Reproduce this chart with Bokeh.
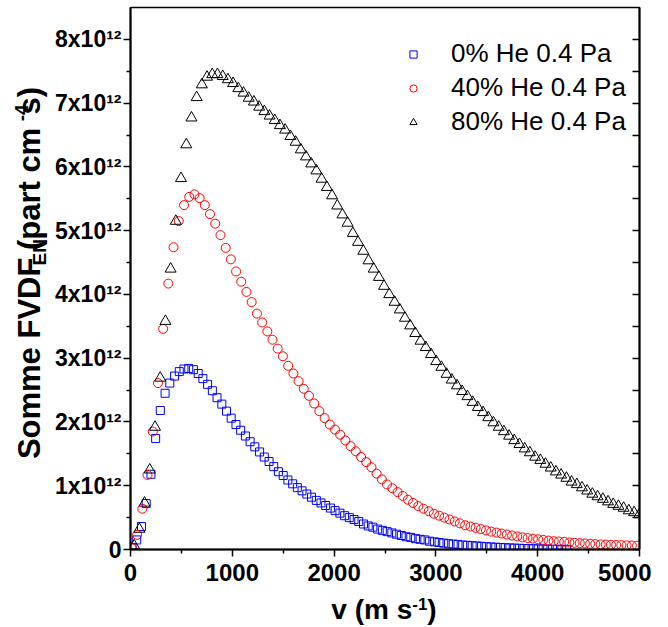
from bokeh.plotting import figure
from bokeh.layouts import row, column
from bokeh.models import (FixedTicker, LinearAxis, Legend, LegendItem,
                          Range1d, CustomJSTickFormatter)
from bokeh.core.properties import value
from bokeh.embed import file_html
from bokeh.resources import INLINE

# ---------------- data ----------------
v_0he = [15, 61, 108, 154, 201, 247, 293, 340, 386, 433, 479, 525, 572, 618, 665, 711, 757, 804,
         850, 897, 943, 989, 1036, 1082, 1129, 1175, 1221, 1268, 1314, 1361, 1407, 1453, 1500,
         1546, 1593, 1639, 1685, 1732, 1778, 1825, 1871, 1917, 1964, 2010, 2057, 2103, 2149, 2196,
         2242, 2289, 2335, 2381, 2428, 2474, 2521, 2567, 2613, 2660, 2706, 2753, 2799, 2845, 2892,
         2938, 2985, 3031, 3077, 3124, 3170, 3217, 3263, 3309, 3356, 3402, 3449, 3495, 3541, 3588,
         3634, 3681, 3727, 3773, 3820, 3866, 3913, 3959, 4005, 4052, 4098, 4145, 4191, 4237, 4284]
fvdf_0he = [0.03, 0.15, 0.36, 0.72, 1.18, 1.74, 2.18, 2.45, 2.61, 2.72, 2.79, 2.83, 2.84, 2.82,
            2.76, 2.68, 2.59, 2.49, 2.38, 2.28, 2.17, 2.06, 1.96, 1.87, 1.78, 1.69, 1.61, 1.53,
            1.45, 1.38, 1.30, 1.22, 1.16, 1.09, 1.03, 0.97, 0.92, 0.87, 0.82, 0.77, 0.73, 0.69,
            0.65, 0.61, 0.57, 0.53, 0.50, 0.47, 0.44, 0.40, 0.37, 0.35, 0.32, 0.30, 0.28, 0.26,
            0.24, 0.22, 0.20, 0.19, 0.17, 0.16, 0.15, 0.13, 0.12, 0.11, 0.10, 0.09, 0.085, 0.08,
            0.07, 0.065, 0.06, 0.055, 0.05, 0.045, 0.04, 0.036, 0.032, 0.028, 0.025, 0.022, 0.019,
            0.016, 0.014, 0.012, 0.010, 0.008, 0.006, 0.005, 0.004, 0.003, 0.002]

v_40he = [14, 65, 116, 167, 219, 270, 321, 372, 423, 474, 526, 577, 628, 679, 730, 781, 832, 884,
          935, 986, 1037, 1088, 1139, 1190, 1242, 1293, 1344, 1395, 1446, 1497, 1549, 1600, 1651,
          1702, 1753, 1804, 1855, 1907, 1958, 2009, 2060, 2111, 2162, 2213, 2265, 2316, 2367, 2418,
          2469, 2520, 2572, 2623, 2674, 2725, 2776, 2827, 2878, 2930, 2981, 3032, 3083, 3134, 3185,
          3236, 3288, 3339, 3390, 3441, 3492, 3543, 3595, 3646, 3697, 3748, 3799, 3850, 3901, 3953,
          4004, 4055, 4106, 4157, 4208, 4260, 4311, 4362, 4413, 4464, 4515, 4566, 4618, 4669, 4720,
          4771, 4822, 4873, 4925, 4976]
fvdf_40he = [0.02, 0.23, 0.64, 1.17, 1.85, 2.61, 3.46, 4.17, 4.74, 5.15, 5.40, 5.53, 5.57, 5.51,
             5.40, 5.26, 5.11, 4.93, 4.73, 4.55, 4.36, 4.20, 4.04, 3.88, 3.70, 3.56, 3.42, 3.29,
             3.15, 3.03, 2.88, 2.76, 2.64, 2.52, 2.41, 2.29, 2.17, 2.06, 1.96, 1.88, 1.80, 1.71,
             1.62, 1.54, 1.45, 1.37, 1.29, 1.19, 1.10, 1.02, 0.96, 0.90, 0.84, 0.78, 0.73, 0.68,
             0.64, 0.60, 0.56, 0.53, 0.50, 0.47, 0.44, 0.41, 0.38, 0.36, 0.34, 0.32, 0.30, 0.28,
             0.265, 0.25, 0.235, 0.22, 0.205, 0.19, 0.18, 0.17, 0.16, 0.15, 0.14, 0.13, 0.125,
             0.12, 0.11, 0.105, 0.10, 0.095, 0.09, 0.085, 0.08, 0.077, 0.074, 0.071, 0.068, 0.065,
             0.062, 0.06]

v_80he = [36, 87, 138, 189, 241, 292, 343, 394, 445, 496, 548, 599, 650, 701, 752, 803, 854, 906,
          957, 1008, 1059, 1110, 1161, 1212, 1264, 1315, 1366, 1417, 1468, 1519, 1571, 1622, 1673,
          1724, 1775, 1826, 1877, 1929, 1980, 2031, 2082, 2133, 2184, 2235, 2287, 2338, 2389, 2440,
          2491, 2542, 2594, 2645, 2696, 2747, 2798, 2849, 2900, 2952, 3003, 3054, 3105, 3156, 3207,
          3258, 3310, 3361, 3412, 3463, 3514, 3565, 3617, 3668, 3719, 3770, 3821, 3872, 3923, 3975,
          4026, 4077, 4128, 4179, 4230, 4282, 4333, 4384, 4435, 4486, 4537, 4588, 4640, 4691, 4742,
          4793, 4844, 4895, 4947, 4998]
fvdf_80he = [0.06, 0.32, 0.73, 1.25, 1.92, 2.69, 3.58, 4.40, 5.15, 5.82, 6.35, 6.77, 7.09, 7.29,
             7.41, 7.45, 7.45, 7.42, 7.37, 7.31, 7.23, 7.16, 7.08, 7.02, 6.94, 6.87, 6.80, 6.73,
             6.65, 6.58, 6.48, 6.39, 6.27, 6.16, 6.05, 5.94, 5.81, 5.68, 5.55, 5.39, 5.25, 5.12,
             4.96, 4.82, 4.68, 4.53, 4.40, 4.27, 4.13, 4.00, 3.88, 3.76, 3.63, 3.51, 3.39, 3.27,
             3.17, 3.06, 2.95, 2.86, 2.75, 2.66, 2.57, 2.48, 2.40, 2.31, 2.23, 2.15, 2.07, 1.99,
             1.92, 1.85, 1.78, 1.71, 1.65, 1.58, 1.52, 1.45, 1.40, 1.34, 1.28, 1.22, 1.17, 1.12,
             1.06, 1.02, 0.97, 0.92, 0.87, 0.83, 0.79, 0.75, 0.71, 0.68, 0.65, 0.61, 0.58, 0.55]

series_labels = ["0% He 0.4 Pa", "40% He 0.4 Pa", "80% He 0.4 Pa"]

x_ticks = [0, 1000, 2000, 3000, 4000, 5000]
x_minor_ticks = [500, 1500, 2500, 3500, 4500]
y_ticks = [0, 1, 2, 3, 4, 5, 6, 7, 8]          # in units of 10^12
y_minor_ticks = [0.5, 1.5, 2.5, 3.5, 4.5, 5.5, 6.5, 7.5]
y_tick_labels = ["0", "1x10\u00b9\u00b2", "2x10\u00b9\u00b2", "3x10\u00b9\u00b2",
                 "4x10\u00b9\u00b2", "5x10\u00b9\u00b2", "6x10\u00b9\u00b2",
                 "7x10\u00b9\u00b2", "8x10\u00b9\u00b2"]

x_title_main = ["v (m s", ")"]
x_title_sup = ["-1"]
y_title_main = ["Somme FVDF", " (part cm", "s)"]
y_title_sub = ["EN"]
y_title_sup = ["-4"]

FONT = "Liberation Sans"
MID = 0.3465        # baseline -> centre of text box, in em (Liberation Sans)
ROT_SHIFT = 0.8     # along-text correction of rotated glyph text, in em

# ---------------- layout constants (pixels) ----------------
YT_W = 52           # width of the y-title strip
FRAME_L = 129       # frame left edge (page px)
FRAME_T = 7
FRAME_W = 509
FRAME_H = 542
BOTTOM = 42
RIGHT = 12
MAIN_H = FRAME_T + FRAME_H + BOTTOM      # 591
XT_H = 627 - MAIN_H                      # 36
TOTAL_W = FRAME_L + FRAME_W + RIGHT

# ---------------- main figure ----------------
p = figure(frame_width=FRAME_W, frame_height=FRAME_H,
           x_range=Range1d(0, 5000), y_range=Range1d(0, 8.5),
           output_backend="svg", toolbar_location=None,
           min_border_left=FRAME_L - YT_W, min_border_right=RIGHT,
           min_border_top=FRAME_T, min_border_bottom=BOTTOM)
p.xgrid.grid_line_color = None
p.ygrid.grid_line_color = None
p.outline_line_color = "black"
p.outline_line_width = 1.5

r0 = p.scatter(v_0he, fvdf_0he, marker="square", size=8, fill_color=None,
               line_color="#0000ff", line_width=1)
r1 = p.scatter(v_40he, fvdf_40he, marker="circle", size=9, fill_color=None,
               line_color="#ff0000", line_width=1)
r2 = p.scatter(v_80he, fvdf_80he, marker="triangle", size=11, fill_color=None,
               line_color="#000000", line_width=1)

xa = p.xaxis[0]
xa.ticker = FixedTicker(ticks=x_ticks, minor_ticks=x_minor_ticks)
xa.axis_line_width = 2
xa.major_tick_line_width = 1.5
xa.minor_tick_line_width = 1.5
xa.major_tick_out = 7
xa.major_tick_in = 0
xa.minor_tick_out = 4
xa.minor_tick_in = 0
xa.major_label_text_font = FONT
xa.major_label_text_font_style = "bold"
xa.major_label_text_font_size = "24px"
xa.major_label_text_color = "black"
xa.major_label_standoff = 7

ya = p.yaxis[0]
ya.ticker = FixedTicker(ticks=y_ticks, minor_ticks=y_minor_ticks)
ya.major_label_overrides = dict(zip(y_ticks, y_tick_labels))
ya.axis_line_width = 2
ya.major_tick_line_width = 1.5
ya.minor_tick_line_width = 1.5
ya.major_tick_out = 7
ya.major_tick_in = 0
ya.minor_tick_out = 4
ya.minor_tick_in = 0
ya.major_label_text_font = FONT
ya.major_label_text_font_style = "bold"
ya.major_label_text_font_size = "23px"
ya.major_label_text_color = "black"
ya.major_label_standoff = 2

ra = LinearAxis(ticker=FixedTicker(ticks=y_ticks, minor_ticks=y_minor_ticks),
                formatter=CustomJSTickFormatter(code="return ''"))
ra.axis_line_width = 2
ra.major_tick_in = 7
ra.major_tick_out = 0
ra.minor_tick_in = 7
ra.minor_tick_out = 0
ra.major_tick_line_width = 1.5
ra.minor_tick_line_width = 1.5
ra.major_label_text_font_size = "1px"
ra.major_label_standoff = 0
p.add_layout(ra, "right")

legend = Legend(items=[LegendItem(label=series_labels[0], renderers=[r0]),
                       LegendItem(label=series_labels[1], renderers=[r1]),
                       LegendItem(label=series_labels[2], renderers=[r2])],
                location=(274, 412), padding=0, margin=0, spacing=3,
                glyph_width=18, glyph_height=30, label_height=30, label_standoff=29,
                label_text_font=FONT, label_text_font_size="26px",
                label_text_color="black",
                background_fill_alpha=0, border_line_color=None)
p.add_layout(legend, "center")


def text_strip(w, h):
    f = figure(width=w, height=h, x_range=Range1d(0, w), y_range=Range1d(0, h),
               output_backend="svg", toolbar_location=None,
               x_axis_location=None, y_axis_location=None,
               min_border=0, outline_line_color=None)
    f.grid.grid_line_color = None
    return f


# ---------------- y title strip (rotated, with sub/superscript) ----------------
YF, YS = 31, 19
yw = [201.5, 26.4, 130.9, 16.9, 27.6]       # advance widths of the pieces (px)
sizes = [YF, YS, YF, YS, YF]
center_page_y = 266
start = (MAIN_H - center_page_y) - sum(yw) / 2   # strip coords, bottom = 0
pos = [start]
for w in yw[:-1]:
    pos.append(pos[-1] + w)
pos = [q - ROT_SHIFT * s for q, s in zip(pos, sizes)]
yt = text_strip(YT_W, MAIN_H)
base = 40                                   # baseline, page x
common = dict(angle=90, angle_units="deg", text_font=value(FONT), text_font_style="bold",
              text_align="left", text_baseline="middle", text_color="black")
yt.text(x=[base - MID * YF] * 3, y=[pos[0], pos[2], pos[4]], text=y_title_main,
        text_font_size=value(f"{YF}px"), **common)
yt.text(x=[base + 6 - MID * YS], y=[pos[1]], text=y_title_sub,
        text_font_size=value(f"{YS}px"), **common)
yt.text(x=[base - 12 - MID * YS], y=[pos[3]], text=y_title_sup,
        text_font_size=value(f"{YS}px"), **common)

# ---------------- x title strip (with superscript) ----------------
XF, XS = 28, 17
xw = [80.9, 15.1, 9.3]
xc = FRAME_L + FRAME_W / 2
x0 = xc - sum(xw) / 2
xt = text_strip(TOTAL_W, XT_H)
xbase = 627 - 619                           # baseline, strip coords
common_x = dict(text_font=value(FONT), text_font_style="bold",
                text_align="left", text_baseline="middle", text_color="black")
xt.text(x=[x0, x0 + xw[0] + xw[1]], y=[xbase + MID * XF] * 2, text=x_title_main,
        text_font_size=value(f"{XF}px"), **common_x)
xt.text(x=[x0 + xw[0]], y=[xbase + 10 + MID * XS], text=x_title_sup,
        text_font_size=value(f"{XS}px"), **common_x)

layout = column(row(yt, p, spacing=0), xt, spacing=0)
open("out.html", "w").write(file_html(layout, INLINE))
